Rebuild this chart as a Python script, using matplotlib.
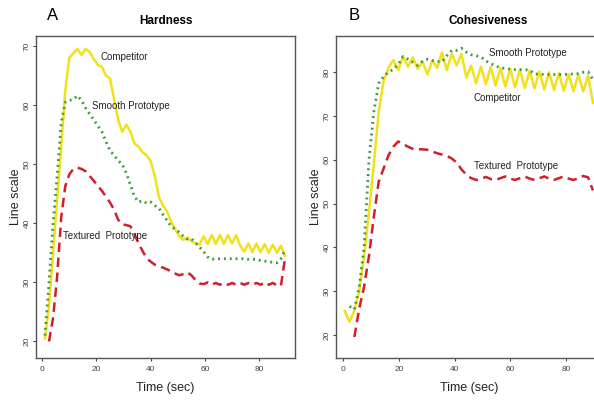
import numpy as np
import matplotlib
matplotlib.use("Agg")
import matplotlib.pyplot as plt

plt.rcParams['font.family'] = ['Liberation Sans', 'DejaVu Sans']

nan = np.nan
# ---------------- Panel A: Hardness ----------------
time_a = np.arange(1, 90.0, 1.5)
hard_competitor = [20.5, 26, 35, 44, 53, 62.5, 68, 68.8, 69.5, 68.5,
                   69.5, 69, 67.8, 66.8, 66.5, 65, 64.5, 61, 57.5, 55.5,
                   56.7, 55.5, 53.5, 53, 52, 51.5, 50.5, 48, 44.5, 43,
                   42, 40.3, 39, 37.8, 37.2, 37.6, 37, 36.6, 36.4, 37.8,
                   36.5, 38, 36.5, 38, 36.5, 38, 36.6, 38, 36.2, 35.2,
                   36.6, 35.1, 36.6, 35.1, 36.5, 35, 36.4, 35, 36.2, 34.5]
hard_smooth = [21, 30, 40, 48, 57, 60.5, 60.8, 61, 61.6, 60.8,
               59.5, 58.5, 57.5, 56.5, 55.5, 53.8, 52.3, 51.5, 50.6, 50,
               48.5, 46.5, 44.5, 43.6, 43.8, 43.4, 43.6, 43, 42.6, 41.5,
               40.5, 39.5, 39, 38.5, 37.8, 37.3, 37.4, 36.7, 36, 35.2,
               34.3, 33.9, 34, 34, 34, 34, 34, 34, 34, 34,
               33.9, 33.9, 33.9, 33.7, 33.6, 33.5, 33.4, 33.3, 34, 35.5]
hard_textured = [nan, 20, 24, 31, 41, 46.3, 48.3, 49.2, 49.4, 49.2,
                 48.8, 48, 47.2, 46.3, 45.5, 44.5, 43.5, 42.3, 40.6, 39.8,
                 39.7, 39.5, 38.2, 36.6, 35.3, 34.1, 33.5, 33, 32.7, 32.5,
                 32.2, 31.9, 31.5, 31.2, 31.4, 31.7, 31.2, 30.4, 29.8, 29.7,
                 30, 29.6, 29.9, 29.6, 29.9, 29.6, 29.9, 29.6, 29.9, 29.6,
                 29.9, 29.6, 29.9, 29.6, 30, 29.6, 29.9, 29.5, 29.4, 34]

# ---------------- Panel B: Cohesiveness ----------------
time_b = np.arange(0.5, 90.0, 1.75)
coh_competitor = [25.5, 23, 25.5, 30, 38, 48, 59, 71, 78, 81,
                  82.8, 80.5, 83.6, 81.3, 83.4, 80.8, 82.5, 79.5, 82.7, 81,
                  84.5, 80.5, 84.3, 81.6, 84.2, 78.8, 81.5, 77.5, 81.3, 77.3,
                  81.2, 77, 81, 76.8, 80.8, 76.6, 80.6, 76.4, 80.4, 76.3,
                  80.2, 76.1, 80, 76, 79.8, 75.8, 79.6, 75.7, 79.5, 75.6,
                  79.3, 73]
coh_smooth = [nan, 26.5, 25.8, 31, 40, 60, 71, 77.5, 79, 80,
              80.7, 81.8, 83.6, 83, 82.3, 81.6, 82.5, 83, 82.7, 82.5,
              82.4, 83.8, 85, 85, 85.5, 84.6, 84, 83.8, 83.5, 82.6,
              82, 81.5, 81, 80.9, 80.7, 80.6, 80.6, 80.6, 80.5, 79.6,
              79.6, 79.5, 79.5, 79.5, 79.5, 79.5, 79.6, 79.6, 79.7, 80,
              80.1, 78.3]
coh_textured = [nan, nan, 19.5, 26, 31, 38, 47, 55, 58, 61,
                63, 64.2, 63.6, 63, 62.5, 62.4, 62.4, 62.3, 61.9, 61.5,
                61.2, 60.9, 60.3, 59.4, 57.8, 56.6, 55.8, 55.4, 55.6, 56.1,
                55.6, 55.4, 55.8, 56.2, 55.7, 55.4, 55.8, 56.2, 55.7, 55.4,
                55.8, 56.2, 55.7, 55.4, 55.8, 56.2, 55.7, 55.4, 55.8, 56.3,
                56, 53]

x_ticks = [0, 20, 40, 60, 80]
yticks_a = [20, 30, 40, 50, 60, 70]
yticks_b = [20, 30, 40, 50, 60, 70, 80]

YELLOW = '#F3E01C'
GREEN = '#3E9B3A'
RED = '#D21F2C'
FRAME = '#555555'

fig = plt.figure(figsize=(5.94, 4.01), dpi=100)
axA = fig.add_axes([36/594, 1-358/401, 259/594, 322/401])
axB = fig.add_axes([336/594, 1-358/401, 266/594, 322/401])


def style(ax, yticks):
    for s in ax.spines.values():
        s.set_color(FRAME)
        s.set_linewidth(1.0)
    ax.set_xticks(x_ticks)
    ax.set_yticks(yticks)
    ax.tick_params(axis='both', colors='#444444', labelsize=6, length=2, width=0.8,
                   direction='out', pad=2)
    ax.tick_params(axis='x', pad=4)
    for lab in ax.get_yticklabels():
        lab.set_rotation(90)
        lab.set_va('center')
    ax.set_xlabel('Time (sec)', fontsize=9, color='#222222', labelpad=6)
    ax.set_ylabel('Line scale', fontsize=9, color='#222222', labelpad=1)


def draw(ax, t, comp, smooth, tex):
    ax.plot(t, comp, color=YELLOW, lw=1.8, solid_joinstyle='round', zorder=2)
    ax.plot(t, tex, color=RED, lw=1.8, dashes=(3.8, 2.2), zorder=3)
    ax.plot(t, smooth, color=GREEN, lw=2.0, dashes=(0.7, 1.4), dash_capstyle='butt', zorder=4)


draw(axA, time_a, hard_competitor, hard_smooth, hard_textured)
axA.set_xlim(-2.3, 93.2)
axA.set_ylim(17.2, 71.7)
style(axA, yticks_a)
axA.set_title('Hardness', fontsize=8.5, fontweight='bold', pad=9)
axA.text(21.5, 68.1, 'Competitor', fontsize=7, va='center', ha='left', color='#222222')
axA.text(18.2, 59.8, 'Smooth Prototype', fontsize=7, va='center', ha='left', color='#222222')
axA.text(7.8, 37.85, 'Textured  Prototype', fontsize=7, va='center', ha='left', color='#222222')

draw(axB, time_b, coh_competitor, coh_smooth, coh_textured)
axB.set_xlim(-2.6, 93.0)
axB.set_ylim(14.7, 88.3)
style(axB, yticks_b)
axB.set_title('Cohesiveness', fontsize=8.5, fontweight='bold', pad=9, x=(488-336)/266)
axB.text(52.5, 84.5, 'Smooth Prototype', fontsize=7, va='center', ha='left', color='#222222')
axB.text(46.8, 74.1, 'Competitor', fontsize=7, va='center', ha='left', color='#222222')
axB.text(47, 58.5, 'Textured  Prototype', fontsize=7, va='center', ha='left', color='#222222')

fig.text(53/594, 1-15/401, 'A', fontsize=12, ha='center', va='center')
fig.text(354/594, 1-15/401, 'B', fontsize=12, ha='center', va='center')

fig.savefig('out.png', dpi=100)
